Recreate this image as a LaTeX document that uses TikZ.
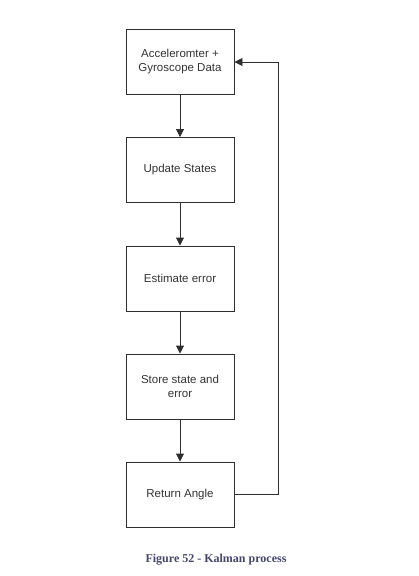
\documentclass[tikz,border=0pt]{standalone}
\usepackage{fontspec}
\setmainfont{Liberation Sans}
\newfontfamily\capfont{Liberation Serif}
\usetikzlibrary{arrows.meta}
\definecolor{linec}{HTML}{2E2E2E}
\definecolor{capc}{HTML}{45456E}
\begin{document}
\begin{tikzpicture}[x=1pt,y=-1pt,
  stepbox/.style={draw=linec,line width=0.95pt,minimum width=108pt,minimum height=65pt,inner sep=0pt,align=center,font=\fontsize{11.5}{14}\selectfont,text=black!80},
  conn/.style={draw=linec,line width=0.95pt,-{Triangle[length=8pt,width=8pt]}}]
\useasboundingbox (0,0) rectangle (418,576);
\node[stepbox] (a) at (180,61.5) {Acceleromter +\\Gyroscope Data};
\node[stepbox] (b) at (180,170) {Update States};
\node[stepbox] (c) at (180,278.5) {Estimate error};
\node[stepbox] (d) at (180,386.5) {Store state and\\error};
\node[stepbox] (e) at (180,494.5) {Return Angle};
\coordinate (r1) at (278,494.5);
\coordinate (r2) at (278,62);
\draw[conn] (a) -- (b);
\draw[conn] (b) -- (c);
\draw[conn] (c) -- (d);
\draw[conn] (d) -- (e);
\draw[conn] (e.east) -- (r1) -- (r2) -- (a.east |- r2);
\node[font=\capfont\bfseries\fontsize{12}{14}\selectfont,text=capc] (cap) at (216,560) {Figure 52 - Kalman process};
\end{tikzpicture}
\end{document}
